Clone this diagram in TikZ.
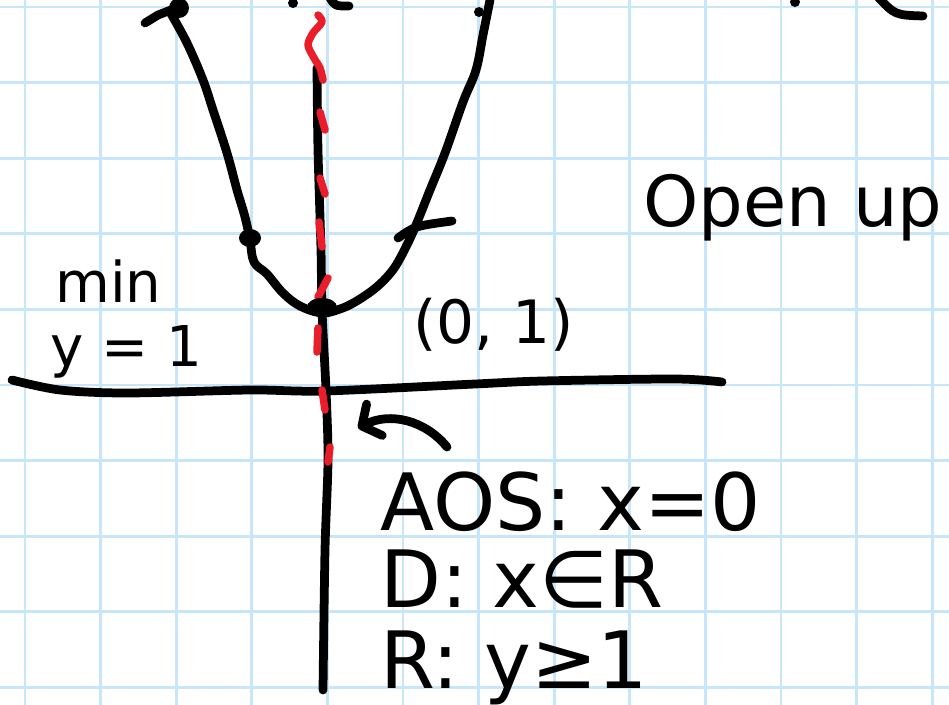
\documentclass[tikz,border=0pt]{standalone}
\usepackage{fontspec}
\setmainfont{DejaVu Sans}
\usetikzlibrary{arrows.meta}
\definecolor{gridblue}{RGB}{200,230,250}
\definecolor{penred}{RGB}{234,30,42}

\begin{document}
\begin{tikzpicture}[x=0.2mm, y=-0.2mm,
    pen/.style={line width=1.75mm, line cap=round, line join=round},
    redpen/.style={pen, penred, line width=1.5mm},
    gridline/.style={gridblue, line width=0.55mm},
    ink/.style={inner sep=0pt, anchor=base west}]

    % Sheet and grid
    \useasboundingbox (0,0) rectangle (949,705);
    \clip (0,0) rectangle (949,705);
    \fill[white] (0,0) rectangle (949,705);
    \foreach \k in {0,...,12}
        \draw[gridline] ({25+75.6*\k},0) -- ({25+75.6*\k},705);
    \foreach \k in {0,...,9}
        \draw[gridline] (0,{7+75.6*\k}) -- (949,{7+75.6*\k});

    % Axes
    \draw[pen] plot[smooth] coordinates {(12,380) (60,390) (127,393) (250,390)
        (325,391) (475,384) (542,381) (675,379) (722,382)};
    \draw[pen] plot[smooth] coordinates {(317,68) (318,150) (321,250) (322,310)
        (326,390) (328,460) (325,550) (323,690)};

    % Axis of symmetry
    \draw[redpen] plot[smooth] coordinates {(318,15) (322,22) (313,33) (308,45)
        (314,58) (320,68) (323,80)};
    \foreach \xa/\ya/\xb/\yb in {320/112/325/130, 320/178/325/194, 319/222/322/247,
        328/278/318/297, 318/328/317/352, 322/390/325/410, 330/447/328/462}
        \draw[redpen] (\xa,\ya) -- (\xb,\yb);

    % Parabola
    \draw[pen] plot[smooth, tension=0.6] coordinates {(170,12) (187,43) (203,80)
        (213,110) (227,153) (237,190) (245,217) (250,240) (254,262) (267,274)
        (283,293) (300,306) (322,313) (340,309) (355,302) (373,290) (387,277)
        (398,262) (413,232) (430,190) (445,153) (463,102) (476,70) (483,35) (490,0)};

    % Points and ticks
    \draw[pen] (145,23) -- (158,15) -- (176,8);
    \draw[pen] (398,238) .. controls (415,226) .. (452,221);
    \fill (179,8) circle (10);
    \fill (479,12) circle (5);
    \fill (250,238) ellipse (11 and 9);
    \fill (322,307) ellipse (15 and 9);

    % Cut-off marks at the top edge
    \fill (293,3) circle (5);
    \draw[pen] (330,-2) .. controls (335,6) .. (349,6);
    \fill (795,2) circle (5);
    \draw[pen] (878,-3) .. controls (895,15) .. (923,16);

    % Labels
    \node[ink, font=\fontsize{32}{36}\selectfont] (min) at (55,302) {min};
    \node[ink, font=\fontsize{32}{36}\selectfont] (miny) at (50,366) {y = 1};
    \node[ink, font=\fontsize{34}{38}\selectfont] (vertex) at (413,343) {(0, 1)};
    \node[ink, font=\fontsize{40}{44}\selectfont] (open) at (643,226) {Open up};
    \node[ink, font=\fontsize{45}{50}\selectfont] (aos) at (380,530) {AOS: x=0};
    \node[ink, font=\fontsize{45}{50}\selectfont] (dom) at (380,607) {D: x∈R};
    \node[ink, font=\fontsize{45}{50}\selectfont] (ran) at (380,688) {R: y≥1};

    % Arrow to the axis of symmetry
    \coordinate (arrowstart) at (447,447);
    \coordinate (arrowend) at (358,428);
    \draw[pen, -{Straight Barb[round, length=2.8mm, width=7mm]}]
        (arrowstart) .. controls (425,420) and (390,412) .. (arrowend);

\end{tikzpicture}
\end{document}
